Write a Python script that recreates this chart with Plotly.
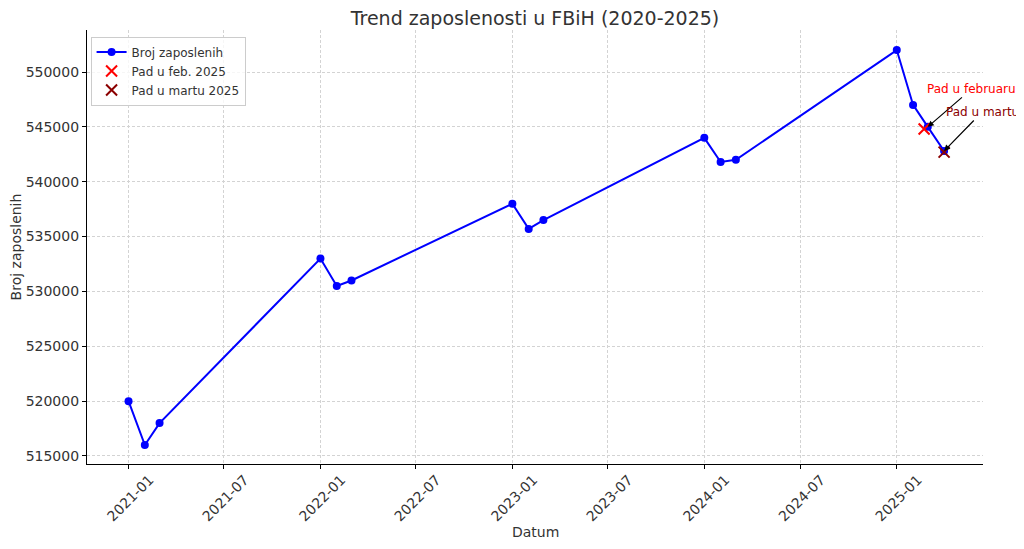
import plotly.graph_objects as go

dates = ["2021-01-01", "2021-02-01", "2021-03-01",
         "2022-01-01", "2022-02-01", "2022-03-01",
         "2023-01-01", "2023-02-01", "2023-03-01",
         "2024-01-01", "2024-02-01", "2024-03-01",
         "2025-01-01", "2025-02-01", "2025-03-01", "2025-04-01"]
employed = [520000, 516000, 518000,
            533000, 530500, 531000,
            538000, 535700, 536500,
            544000, 541800, 542000,
            552000, 547000, 545000, 542800]

feb_date = ["2025-02-22"]
feb_value = [544800]
mar_date = ["2025-04-01"]
mar_value = [542700]

tick_vals = ["2021-01-01", "2021-07-01", "2022-01-01", "2022-07-01", "2023-01-01",
             "2023-07-01", "2024-01-01", "2024-07-01", "2025-01-01"]
tick_text = ["2021-01", "2021-07", "2022-01", "2022-07", "2023-01",
             "2023-07", "2024-01", "2024-07", "2025-01"]
y_ticks = [515000, 520000, 525000, 530000, 535000, 540000, 545000, 550000]

font = "DejaVu Sans"

fig = go.Figure()
fig.add_trace(go.Scatter(x=dates, y=employed, mode="lines+markers", name="Broj zaposlenih",
                         line=dict(color="#0000ff", width=2),
                         marker=dict(color="#0000ff", size=8)))
fig.add_trace(go.Scatter(x=feb_date, y=feb_value, mode="markers", name="Pad u feb. 2025",
                         marker=dict(symbol="x-thin", size=11, line=dict(color="#ff0000", width=2))))
fig.add_trace(go.Scatter(x=mar_date, y=mar_value, mode="markers", name="Pad u martu 2025",
                         marker=dict(symbol="x-thin", size=11, line=dict(color="#8b0000", width=2))))

fig.add_annotation(x="2025-03-01", y=545000, text="Pad u februaru", showarrow=True,
                   ax=44, ay=-38, arrowhead=2, arrowsize=1, arrowwidth=1.2, arrowcolor="black",
                   font=dict(color="#ff0000", size=12, family=font))
fig.add_annotation(x="2025-04-01", y=542800, text="Pad u martu", showarrow=True,
                   ax=38, ay=-39, arrowhead=2, arrowsize=1, arrowwidth=1.2, arrowcolor="black",
                   font=dict(color="#8b0000", size=12, family=font))
fig.add_annotation(xref="paper", yref="paper", x=0.5, y=-0.1567, xanchor="center", yanchor="middle",
                   text="Datum", showarrow=False, font=dict(size=14, color="#333333", family=font))

# page body has an 8px margin, so the figure is sized to fit the 1024x549 window
fig.update_layout(
    width=1016, height=541,
    margin=dict(l=79, r=41, t=22, b=85, autoexpand=False),
    paper_bgcolor="white", plot_bgcolor="white",
    font=dict(family=font, color="#333333", size=14),
    title=dict(text="Trend zaposlenosti u FBiH (2020-2025)", x=0.5, xanchor="center",
               xref="paper", yref="container", y=0.9815, yanchor="middle",
               font=dict(size=19, color="#333333")),
    legend=dict(x=0.004, y=0.985, xanchor="left", yanchor="top",
                bgcolor="rgba(255,255,255,0.8)", bordercolor="#cccccc", borderwidth=1,
                font=dict(size=12)),
    showlegend=True,
)
fig.update_xaxes(range=["2020-10-14", "2025-06-14"], tickvals=tick_vals, ticktext=tick_text,
                 tickangle=-45, showgrid=True, gridcolor="#d3d3d3", griddash="3px,2px", gridwidth=0.8,
                 showline=True, linecolor="black", linewidth=1.2, ticks="outside", ticklen=4,
                 tickcolor="black", tickfont=dict(size=14), automargin=False, zeroline=False,
                 ticklabelshift=21, ticklabelstandoff=-3)
fig.update_yaxes(range=[514270, 553830], tickvals=y_ticks, tickformat="d",
                 showgrid=True, gridcolor="#d3d3d3", griddash="3px,2px", gridwidth=0.8,
                 showline=True, linecolor="black", linewidth=1.2, ticks="outside", ticklen=4,
                 tickcolor="black", tickfont=dict(size=14), automargin=False,
                 title=dict(text="Broj zaposlenih", font=dict(size=14), standoff=8), zeroline=False)

fig.write_html("out.html")
